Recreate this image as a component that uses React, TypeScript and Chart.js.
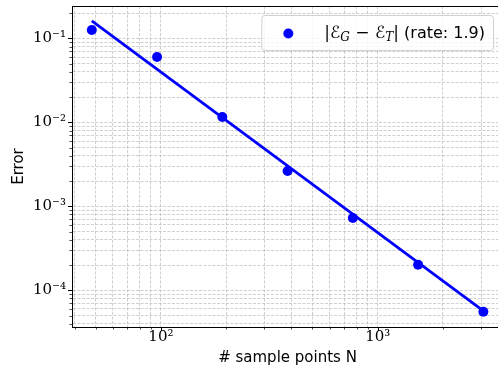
import React, { useEffect, useRef } from "react";
import { Chart, registerables } from "chart.js";

Chart.register(...registerables);

// ---- data ----
const sampleN = [48, 96, 192, 384, 768, 1536, 3072];
const errorValues = [0.126, 0.0599, 0.0116, 0.00263, 0.000726, 0.000202, 0.0000556];
const fitN = [48, 3072];
const fitError = [0.162, 0.000057];
const rateLabel = "1.9";

const xMajorValues = [100, 1000];
const xMajorLabels = ["10²", "10³"];
const yMajorValues = [1e-4, 1e-3, 1e-2, 1e-1];
const yMajorLabels = ["10⁻⁴", "10⁻³", "10⁻²", "10⁻¹"];

const xLimits = [38.9, 3784];
const yLimits = [3.66e-5, 0.243];

const xTitle = "# sample points N";
const yTitle = "Error";

const BLUE = "#0000ff";
const GRID = "rgba(176,176,176,0.75)";

function isPow10(v: number) {
  const l = Math.log10(v);
  return Math.abs(l - Math.round(l)) < 1e-9;
}

function logTicks(min: number, max: number) {
  const out: { value: number; major: boolean }[] = [];
  const e0 = Math.floor(Math.log10(min));
  const e1 = Math.ceil(Math.log10(max));
  for (let e = e0; e <= e1; e++) {
    for (let k = 1; k <= 9; k++) {
      const v = parseFloat((k * Math.pow(10, e)).toPrecision(12));
      if (v > min && v < max) out.push({ value: v, major: k === 1 });
    }
  }
  return out;
}

function labelFor(values: number[], labels: string[], v: number) {
  for (let i = 0; i < values.length; i++) {
    if (Math.abs(values[i] - v) / values[i] < 1e-9) return labels[i];
  }
  return "";
}

const mplPlugin = {
  id: "mplDecor",
  afterDatasetsDraw(chart: any) {
    const ctx = chart.ctx as CanvasRenderingContext2D;
    const { left, right, top, bottom } = chart.chartArea;

    // ---- legend ----
    const parts: { t: string; f: string; dy: number }[] = [
      { t: "|", f: '17px "DejaVu Serif"', dy: 0 },
      { t: "ℰ", f: '17px "DejaVu Serif", "DejaVu Sans"', dy: 0 },
      { t: "G", f: 'italic 12px "DejaVu Serif"', dy: 4 },
      { t: " − ", f: '17px "DejaVu Serif"', dy: 0 },
      { t: "ℰ", f: '17px "DejaVu Serif", "DejaVu Sans"', dy: 0 },
      { t: "T", f: 'italic 12px "DejaVu Serif"', dy: 4 },
      { t: "|", f: '17px "DejaVu Serif"', dy: 0 },
      { t: " (rate: " + rateLabel + ")", f: '16px "DejaVu Sans"', dy: 0 },
    ];
    ctx.save();
    let textW = 0;
    for (const p of parts) {
      ctx.font = p.f;
      textW += ctx.measureText(p.t).width;
    }
    const boxH = 35;
    const boxW = 63 + textW + 8;
    const bx = right - 10 - boxW;
    const by = top + 9;
    ctx.beginPath();
    (ctx as any).roundRect(bx + 0.5, by + 0.5, boxW, boxH, 3);
    ctx.fillStyle = "rgba(255,255,255,0.8)";
    ctx.fill();
    ctx.strokeStyle = "rgba(204,204,204,0.9)";
    ctx.lineWidth = 1;
    ctx.stroke();
    const cy = by + boxH / 2 + 1;
    ctx.beginPath();
    ctx.arc(bx + 27, cy, 5, 0, Math.PI * 2);
    ctx.fillStyle = BLUE;
    ctx.fill();
    ctx.fillStyle = "#000";
    ctx.textBaseline = "middle";
    ctx.textAlign = "left";
    let x = bx + 63;
    for (const p of parts) {
      ctx.font = p.f;
      ctx.fillText(p.t, x, cy + p.dy);
      x += ctx.measureText(p.t).width;
    }

    // ---- top / right spines ----
    ctx.strokeStyle = "#000";
    ctx.lineWidth = 1;
    ctx.beginPath();
    ctx.moveTo(left, Math.round(top) + 0.5);
    ctx.lineTo(right, Math.round(top) + 0.5);
    ctx.moveTo(Math.round(right) + 0.5, top);
    ctx.lineTo(Math.round(right) + 0.5, bottom);
    ctx.stroke();

    // ---- tick marks (outward, major longer) ----
    const xs = chart.scales.x;
    const ys = chart.scales.y;
    for (const t of xs.ticks) {
      const px = Math.round(xs.getPixelForValue(t.value)) + 0.5;
      const major = isPow10(t.value);
      ctx.lineWidth = major ? 1 : 0.7;
      ctx.beginPath();
      ctx.moveTo(px, bottom);
      ctx.lineTo(px, bottom + (major ? 4 : 2.5));
      ctx.stroke();
    }
    for (const t of ys.ticks) {
      const py = Math.round(ys.getPixelForValue(t.value)) + 0.5;
      const major = isPow10(t.value);
      ctx.lineWidth = major ? 1 : 0.7;
      ctx.beginPath();
      ctx.moveTo(left, py);
      ctx.lineTo(left - (major ? 4 : 2.5), py);
      ctx.stroke();
    }
    ctx.restore();
  },
};

export default function App() {
  const ref = useRef<HTMLCanvasElement | null>(null);

  useEffect(() => {
    if (!ref.current) return;
    const chart = new Chart(ref.current, {
      type: "scatter",
      data: {
        datasets: [
          {
            label: "|ℰG − ℰT| (rate: " + rateLabel + ")",
            data: sampleN.map((n, i) => ({ x: n, y: errorValues[i] })),
            backgroundColor: BLUE,
            borderColor: BLUE,
            pointRadius: 5,
            pointBorderWidth: 0,
            showLine: false,
          },
          {
            label: "fit",
            data: fitN.map((n, i) => ({ x: n, y: fitError[i] })),
            borderColor: BLUE,
            backgroundColor: BLUE,
            borderWidth: 2.8,
            pointRadius: 0,
            showLine: true,
          },
        ],
      },
      options: {
        responsive: false,
        animation: false,
        layout: { padding: { left: 0, top: 6, right: 9, bottom: 0 } },
        plugins: {
          legend: { display: false },
          tooltip: { enabled: false },
        },
        scales: {
          x: {
            type: "logarithmic",
            min: xLimits[0],
            max: xLimits[1],
            bounds: "data",
            afterBuildTicks: (s: any) => {
              s.ticks = logTicks(xLimits[0], xLimits[1]);
            },
            afterFit: (s: any) => {
              s.height = 47;
              s.paddingLeft = 0;
              s.paddingRight = 0;
            },
            ticks: {
              autoSkip: false,
              maxRotation: 0,
              padding: 1,
              color: "#000",
              font: { family: '"DejaVu Serif"', size: 15 },
              callback: (v: any) => labelFor(xMajorValues, xMajorLabels, Number(v)),
            },
            grid: {
              color: GRID,
              lineWidth: 0.8,
              drawTicks: false,
            },
            border: { display: true, color: "#000", width: 1, dash: [3, 1.5] },
            title: {
              display: true,
              text: xTitle,
              color: "#000",
              font: { family: '"DejaVu Sans"', size: 15 },
              padding: { top: 0, bottom: 7 },
            },
          },
          y: {
            type: "logarithmic",
            min: yLimits[0],
            max: yLimits[1],
            bounds: "data",
            afterBuildTicks: (s: any) => {
              s.ticks = logTicks(yLimits[0], yLimits[1]);
            },
            afterFit: (s: any) => {
              s.width = 72;
              s.paddingTop = 0;
              s.paddingBottom = 0;
            },
            ticks: {
              autoSkip: false,
              padding: 6,
              color: "#000",
              font: { family: '"DejaVu Serif"', size: 15 },
              callback: (v: any) => labelFor(yMajorValues, yMajorLabels, Number(v)),
            },
            grid: {
              color: GRID,
              lineWidth: 0.8,
              drawTicks: false,
            },
            border: { display: true, color: "#000", width: 1, dash: [3, 1.5] },
            title: {
              display: true,
              text: yTitle,
              color: "#000",
              font: { family: '"DejaVu Sans"', size: 15 },
              padding: { top: 10, bottom: 0 },
            },
          },
        },
      },
      plugins: [mplPlugin],
    });
    return () => chart.destroy();
  }, []);

  return (
    <div
      style={{
        position: "fixed",
        left: 0,
        top: 0,
        width: 498,
        height: 374,
        overflow: "hidden",
        background: "#fff",
      }}
    >
      <canvas ref={ref} width={512} height={374} />
    </div>
  );
}
